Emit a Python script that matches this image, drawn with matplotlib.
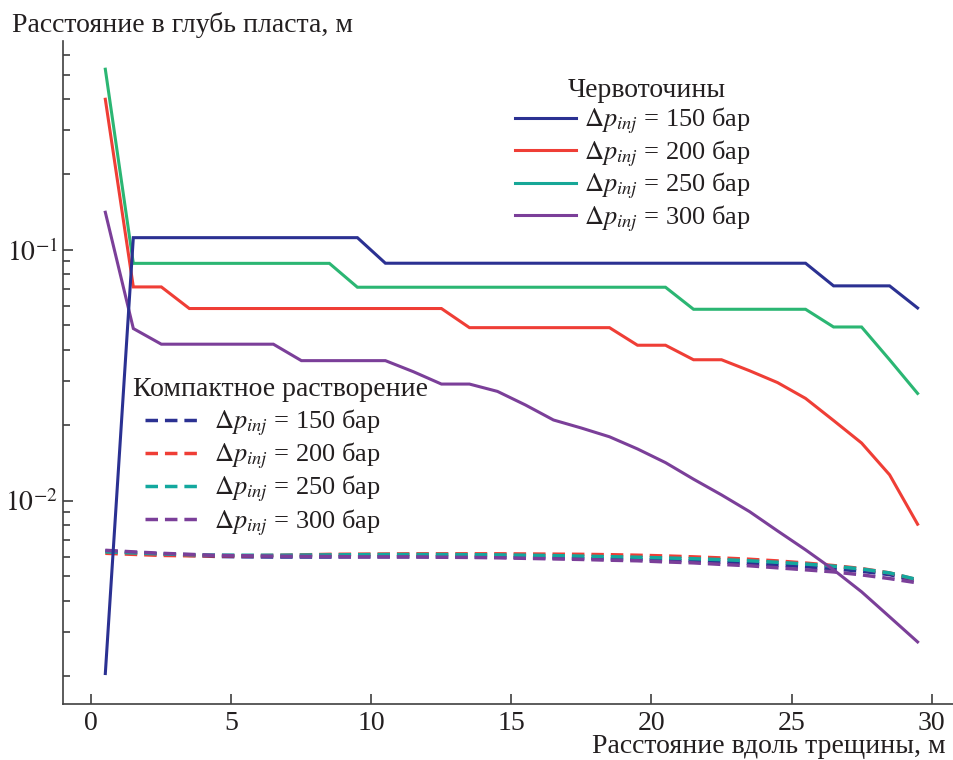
import matplotlib
matplotlib.use('Agg')
import matplotlib.pyplot as plt
from matplotlib.lines import Line2D
from matplotlib.ticker import LogLocator, NullFormatter, FixedLocator

plt.rcParams['font.family'] = ['Liberation Serif', 'DejaVu Serif']
plt.rcParams['mathtext.fontset'] = 'stix'

# ---------------- data ----------------
x = [0.5, 1.5, 2.5, 3.5, 4.5, 5.5, 6.5, 7.5, 8.5, 9.5,
     10.5, 11.5, 12.5, 13.5, 14.5, 15.5, 16.5, 17.5, 18.5, 19.5,
     20.5, 21.5, 22.5, 23.5, 24.5, 25.5, 26.5, 27.5, 28.5, 29.5]

pressures = [150, 200, 250, 300]

# wormholes (solid)
worm_150 = [0.00205, 0.1119, 0.1119, 0.1119, 0.1119, 0.1119, 0.1119, 0.1119, 0.1119, 0.1119,
            0.0885, 0.0885, 0.0885, 0.0885, 0.0885, 0.0885, 0.0885, 0.0885, 0.0885, 0.0885,
            0.0885, 0.0885, 0.0885, 0.0885, 0.0885, 0.0885, 0.0719, 0.0719, 0.0719, 0.0587]
worm_200 = [0.3985, 0.0712, 0.0712, 0.0584, 0.0584, 0.0584, 0.0584, 0.0584, 0.0584, 0.0584,
            0.0584, 0.0584, 0.0584, 0.0490, 0.0490, 0.0490, 0.0490, 0.0490, 0.0490, 0.0417,
            0.0417, 0.0365, 0.0365, 0.0330, 0.0296, 0.0256, 0.0209, 0.0170, 0.0127, 0.00807]
worm_250 = [0.525, 0.0884, 0.0884, 0.0884, 0.0884, 0.0884, 0.0884, 0.0884, 0.0884, 0.0710,
            0.0710, 0.0710, 0.0710, 0.0710, 0.0710, 0.0710, 0.0710, 0.0710, 0.0710, 0.0710,
            0.0710, 0.0580, 0.0580, 0.0580, 0.0580, 0.0580, 0.0493, 0.0493, 0.0365, 0.0268]
worm_300 = [0.1413, 0.0486, 0.0421, 0.0421, 0.0421, 0.0421, 0.0421, 0.0362, 0.0362, 0.0362,
            0.0362, 0.0327, 0.0292, 0.0292, 0.0273, 0.0241, 0.0210, 0.0195, 0.0180, 0.0161,
            0.0142, 0.0122, 0.01056, 0.00906, 0.00759, 0.00638, 0.00531, 0.00434, 0.00345, 0.00274]

# compact dissolution (dashed)
comp_150 = [0.00632, 0.00622, 0.00614, 0.00606, 0.00600, 0.00598, 0.00597, 0.00597, 0.00597, 0.00598,
            0.00598, 0.00598, 0.00598, 0.00597, 0.00596, 0.00594, 0.00592, 0.00590, 0.00587, 0.00584,
            0.00580, 0.00576, 0.00570, 0.00563, 0.00555, 0.00546, 0.00536, 0.00524, 0.00508, 0.00478]
comp_200 = [0.00618, 0.00612, 0.00606, 0.00604, 0.00604, 0.00604, 0.00606, 0.00609, 0.00612, 0.00613,
            0.00614, 0.00615, 0.00615, 0.00615, 0.00615, 0.00614, 0.00613, 0.00612, 0.00610, 0.00607,
            0.00603, 0.00598, 0.00592, 0.00585, 0.00576, 0.00565, 0.00552, 0.00537, 0.00516, 0.00484]
comp_250 = [0.00626, 0.00620, 0.00614, 0.00610, 0.00608, 0.00607, 0.00607, 0.00608, 0.00609, 0.00610,
            0.00611, 0.00611, 0.00611, 0.00610, 0.00609, 0.00607, 0.00605, 0.00602, 0.00599, 0.00596,
            0.00592, 0.00588, 0.00583, 0.00577, 0.00569, 0.00560, 0.00549, 0.00535, 0.00516, 0.00485]
comp_300 = [0.00635, 0.00626, 0.00618, 0.00612, 0.00606, 0.00604, 0.00602, 0.00601, 0.00600, 0.00598,
            0.00598, 0.00598, 0.00596, 0.00595, 0.00593, 0.00590, 0.00587, 0.00584, 0.00580, 0.00577,
            0.00571, 0.00566, 0.00558, 0.00551, 0.00541, 0.00531, 0.00521, 0.00507, 0.00490, 0.00471]

worm_series = [worm_150, worm_200, worm_250, worm_300]
comp_series = [comp_150, comp_200, comp_250, comp_300]

worm_colors = ['#2b3192', '#ef3e36', '#2bb673', '#7b3f99']
worm_legend_colors = ['#2b3192', '#ef3e36', '#17a797', '#7b3f99']
comp_colors = ['#2b3192', '#ef3e36', '#13a89e', '#7b3f99']

title_worm = 'Червоточины'
title_comp = 'Компактное растворение'
ylabel = 'Расстояние в глубь пласта, м'
xlabel = 'Расстояние вдоль трещины, м'

# ---------------- figure ----------------
W, H = 954, 760
fig = plt.figure(figsize=(W / 100, H / 100), dpi=100)
ax = fig.add_axes([63.3 / W, 1 - 704 / H, (W - 63.3) / W, (704 - 40.7) / H])

FS = 20
LFS = 19
TXT = '#231f20'
SP = '#404040'
lw = 2.2
dash = (3.6, 2.0)

for ys, c in zip(comp_series, comp_colors):
    ax.plot(x, ys, color=c, lw=2.5, dashes=dash, solid_capstyle='butt', dash_capstyle='butt')

for ys, c in zip(worm_series[::-1], worm_colors[::-1]):
    ax.plot(x, ys, color=c, lw=lw, solid_joinstyle='miter')

ax.set_yscale('log')
ax.set_xlim(-1.0, 30.8)
ax.set_ylim(0.00155, 0.682)

ax.set_xticks([0, 5, 10, 15, 20, 25, 30])
ax.yaxis.set_major_locator(FixedLocator([0.01, 0.1]))
ax.yaxis.set_minor_locator(LogLocator(base=10, subs=[2, 3, 4, 5, 6, 7, 8, 9]))
ax.yaxis.set_minor_formatter(NullFormatter())
ax.set_yticklabels([r'$10^{-2}$', r'$10^{-1}$'])

for s in ['top', 'right']:
    ax.spines[s].set_visible(False)
for s in ['left', 'bottom']:
    ax.spines[s].set_color(SP)
    ax.spines[s].set_linewidth(1.2)

ax.tick_params(axis='both', which='major', direction='in', length=7, width=1.2,
               color=SP, labelsize=FS, labelcolor=TXT)
ax.tick_params(axis='y', which='minor', direction='in', length=5, width=1.2, color=SP)
ax.tick_params(axis='x', which='major', pad=5)
ax.tick_params(axis='y', which='major', pad=4)

fig.text(12 / W, 1 - 32 / H, ylabel, fontsize=FS, color=TXT, ha='left', va='baseline')
fig.text(946 / W, 1 - 753 / H, xlabel, fontsize=FS, color=TXT, ha='right', va='baseline')

# legends
def labels():
    return [r'$\Delta p_{inj}$ = %d бар' % p for p in pressures]

h1 = [Line2D([], [], color=c, lw=lw) for c in worm_legend_colors]
h2 = [Line2D([], [], color=c, lw=2.5, dashes=dash) for c in comp_colors]

leg1 = ax.legend(h1, labels(), loc='upper left', bbox_to_anchor=(515 / W, 1 - 106 / H),
                 bbox_transform=fig.transFigure, frameon=False, fontsize=LFS,
                 handlelength=2.3, handletextpad=0.3, labelspacing=0.08,
                 borderpad=0, borderaxespad=0, labelcolor=TXT)
ax.add_artist(leg1)
leg2 = ax.legend(h2, labels(), loc='upper left', bbox_to_anchor=(145 / W, 1 - 408 / H),
                 bbox_transform=fig.transFigure, frameon=False, fontsize=LFS,
                 handlelength=2.2, handletextpad=0.4, labelspacing=0.1,
                 borderpad=0, borderaxespad=0, labelcolor=TXT)

fig.text(647 / W, 1 - 97 / H, title_worm, fontsize=FS, color=TXT, ha='center', va='baseline')
fig.text(133 / W, 1 - 396 / H, title_comp, fontsize=FS, color=TXT, ha='left', va='baseline')

fig.savefig('out.png', dpi=100)
